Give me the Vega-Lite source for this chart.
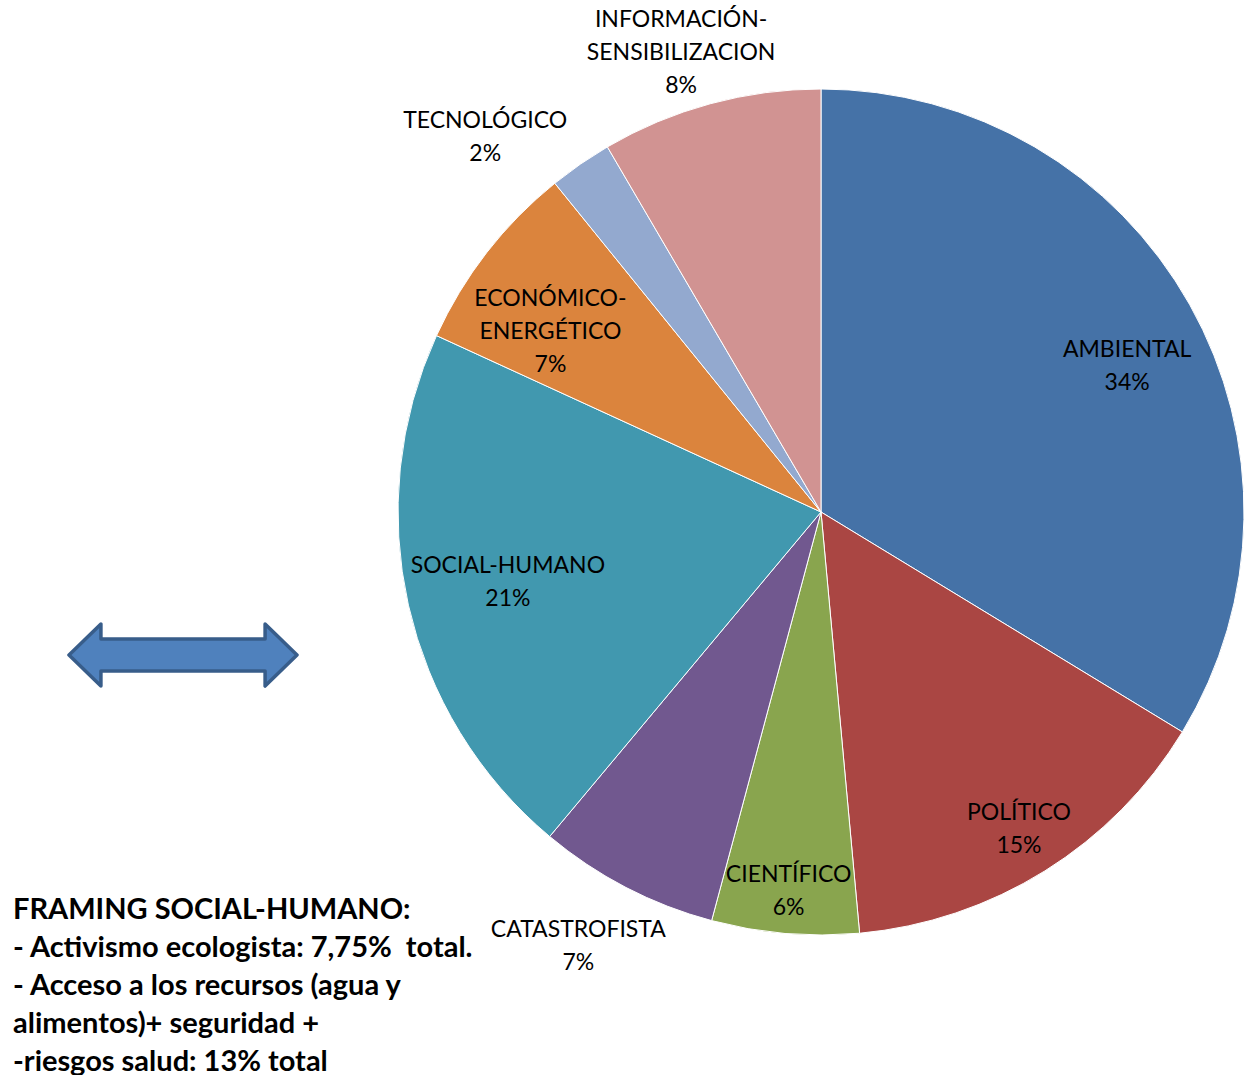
{
  "$schema": "https://vega.github.io/schema/vega-lite/v6.json",
  "padding": 0,
  "spacing": 0,
  "bounds": "flush",
  "background": "white",
  "config": {"view": {"stroke": null}, "font": "Lato", "text": {"font": "Lato", "fontSize": 23, "lineHeight": 33, "lineBreak": "\n", "align": "center", "baseline": "middle", "color": "black"}},
  "datasets": {
    "slices": [
      {"n": 1, "cat": "AMBIENTAL", "value": 33.6, "label": "AMBIENTAL\n34%"},
      {"n": 2, "cat": "POLÍTICO", "value": 14.8, "label": "POLÍTICO\n15%"},
      {"n": 3, "cat": "CIENTÍFICO", "value": 5.6, "label": "CIENTÍFICO\n6%"},
      {"n": 4, "cat": "CATASTROFISTA", "value": 6.9, "label": "CATASTROFISTA\n7%"},
      {"n": 5, "cat": "SOCIAL-HUMANO", "value": 20.7, "label": "SOCIAL-HUMANO\n21%"},
      {"n": 6, "cat": "ECONÓMICO-ENERGÉTICO", "value": 7.3, "label": "ECONÓMICO-\nENERGÉTICO\n7%"},
      {"n": 7, "cat": "TECNOLÓGICO", "value": 2.4, "label": "TECNOLÓGICO\n2%"},
      {"n": 8, "cat": "INFORMACIÓN-SENSIBILIZACION", "value": 8.4, "label": "INFORMACIÓN-\nSENSIBILIZACION\n8%"}
    ],
    "arrow": [{"shape": "double arrow"}]
  },
  "hconcat": [
    {
      "width": 395,
      "height": 882,
      "title": {
        "text": [
          "FRAMING SOCIAL-HUMANO:",
          "- Activismo ecologista: 7,75%\u00a0 total.",
          "- Acceso a los recursos (agua y",
          "alimentos)+ seguridad +",
          "-riesgos salud: 13% total"
        ],
        "orient": "bottom",
        "anchor": "start",
        "frame": "group",
        "font": "Lato",
        "fontSize": 29,
        "fontWeight": "bold",
        "lineHeight": 38,
        "offset": 12,
        "dx": 13,
        "color": "black"
      },
      "data": {"name": "arrow"},
      "mark": {
        "type": "point",
        "shape": "M-1,0 L-0.72,-0.272 L-0.72,-0.14 L0.72,-0.14 L0.72,-0.272 L1,0 L0.72,0.272 L0.72,0.14 L-0.72,0.14 L-0.72,0.272 Z",
        "filled": true,
        "fill": "#4F81BD",
        "stroke": "#385D8A",
        "strokeWidth": 3.5,
        "strokeJoin": "round",
        "size": 51984,
        "opacity": 1
      },
      "encoding": {
        "x": {"datum": 0.4633, "type": "quantitative", "scale": {"domain": [0, 1]}, "axis": null},
        "y": {"datum": 0.7404, "type": "quantitative", "scale": {"domain": [0, 1], "reverse": true}, "axis": null}
      }
    },
    {
      "width": 852,
      "height": 1020,
      "data": {"name": "slices"},
      "encoding": {
        "theta": {"field": "value", "type": "quantitative", "stack": true},
        "order": {"field": "n", "type": "quantitative"},
        "detail": {"field": "cat", "type": "nominal"}
      },
      "layer": [
        {
          "mark": {"type": "arc", "outerRadius": 423, "stroke": "white", "strokeWidth": 1},
          "encoding": {
            "color": {
              "field": "cat",
              "type": "nominal",
              "scale": {
                "domain": ["AMBIENTAL", "POLÍTICO", "CIENTÍFICO", "CATASTROFISTA", "SOCIAL-HUMANO", "ECONÓMICO-ENERGÉTICO", "TECNOLÓGICO", "INFORMACIÓN-SENSIBILIZACION"],
                "range": ["#4572A7", "#AA4643", "#89A54E", "#71588F", "#4198AF", "#DB843D", "#93A9CF", "#D19392"]
              },
              "legend": null
            }
          }
        },
        {
          "mark": {"type": "text", "radius": 339, "thetaOffset": 0.068, "dy": -16.5},
          "encoding": {"text": {"condition": {"test": "datum.cat === 'AMBIENTAL'", "field": "label", "type": "nominal"}, "value": ""}}
        },
        {
          "mark": {"type": "text", "radius": 374, "dy": -16.5},
          "encoding": {"text": {"condition": {"test": "datum.cat === 'POLÍTICO'", "field": "label", "type": "nominal"}, "value": ""}}
        },
        {
          "mark": {"type": "text", "radius": 381, "dy": -16.5},
          "encoding": {"text": {"condition": {"test": "datum.cat === 'CIENTÍFICO'", "field": "label", "type": "nominal"}, "value": ""}}
        },
        {
          "mark": {"type": "text", "radius": 498, "thetaOffset": 0.03, "dy": -16.5},
          "encoding": {"text": {"condition": {"test": "datum.cat === 'CATASTROFISTA'", "field": "label", "type": "nominal"}, "value": ""}}
        },
        {
          "mark": {"type": "text", "radius": 321, "dy": -16.5},
          "encoding": {"text": {"condition": {"test": "datum.cat === 'SOCIAL-HUMANO'", "field": "label", "type": "nominal"}, "value": ""}}
        },
        {
          "mark": {"type": "text", "radius": 325, "thetaOffset": -0.073, "dy": -33},
          "encoding": {"text": {"condition": {"test": "datum.cat === 'ECONÓMICO-ENERGÉTICO'", "field": "label", "type": "nominal"}, "value": ""}}
        },
        {
          "mark": {"type": "text", "radius": 503, "thetaOffset": -0.126, "dy": -16.5},
          "encoding": {"text": {"condition": {"test": "datum.cat === 'TECNOLÓGICO'", "field": "label", "type": "nominal"}, "value": ""}}
        },
        {
          "mark": {"type": "text", "radius": 480, "thetaOffset": -0.031, "dy": -33},
          "encoding": {"text": {"condition": {"test": "datum.cat === 'INFORMACIÓN-SENSIBILIZACION'", "field": "label", "type": "nominal"}, "value": ""}}
        }
      ]
    }
  ]
}
